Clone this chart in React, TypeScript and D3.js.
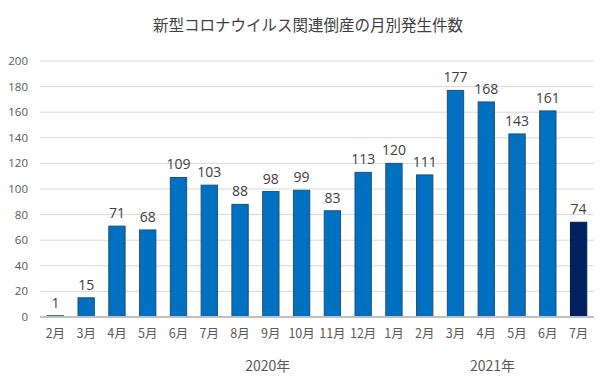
import React from "react";
import * as d3 from "d3";

const months = ["2月","3月","4月","5月","6月","7月","8月","9月","10月","11月","12月","1月","2月","3月","4月","5月","6月","7月"];
const keys = months.map((m, i) => `${i}`);
const values = [1,15,71,68,109,103,88,98,99,83,113,120,111,177,168,143,161,74];
const highlight = [false,false,false,false,false,false,false,false,false,false,false,false,false,false,false,false,false,true];
const yTicks = [0,20,40,60,80,100,120,140,160,180,200];
const years = [{ label: "2020年", pos: 6.9 }, { label: "2021年", pos: 14.2 }];
const title = "新型コロナウイルス関連倒産の月別発生件数";

export default function App() {
  const W = 601, H = 380;
  const left = 40, right = 594, top = 61, bottom = 317;
  const x = d3.scaleBand<string>().domain(keys).range([left, right]).paddingInner(0.47).paddingOuter(0.235);
  const y = d3.scaleLinear().domain([0, 200]).range([bottom, top]);
  const step = x.step();
  const jp = "'Noto Sans CJK JP', sans-serif";
  const num = "'Open Sans', 'Liberation Sans', sans-serif";
  return (
    <svg width={W} height={H} style={{ position: "absolute", left: 0, top: 0, background: "#fff" }}>
      <text x={308} y={31} textAnchor="middle" fontFamily={jp} fontSize={15.5} fill="#404040">{title}</text>
      {yTicks.map(t => (
        <g key={t}>
          {t > 0 && <line x1={left} x2={right} y1={y(t)} y2={y(t)} stroke="#d9d9d9" strokeWidth={1} />}
          <text x={28} y={y(t)} dy="0.35em" textAnchor="end" fontFamily={num} fontSize={11.5} fill="#595959">{t}</text>
        </g>
      ))}
      {values.map((v, i) => {
        const bx = x(keys[i])!;
        return (
          <g key={i}>
            <rect x={bx} y={y(v)} width={x.bandwidth()} height={bottom - y(v)}
              fill={highlight[i] ? "#002060" : "#0070c0"} stroke={highlight[i] ? "#001a4d" : "#1f4e79"} strokeWidth={1} />
            <text x={bx + x.bandwidth() / 2} y={y(v) - 8} textAnchor="middle" fontFamily={num} fontSize={14} fill="#404040">{v}</text>
            <text x={bx + x.bandwidth() / 2} y={338} textAnchor="middle" fontFamily={jp} fontSize={12.5} fill="#595959">{months[i]}</text>
          </g>
        );
      })}
      <line x1={left} x2={right} y1={bottom} y2={bottom} stroke="#bfbfbf" strokeWidth={2} />
      {years.map(yr => (
        <text key={yr.label} x={left + step * (yr.pos + 0.5)} y={371} textAnchor="middle" fontFamily={jp} fontSize={14} fill="#595959">{yr.label}</text>
      ))}
    </svg>
  );
}
